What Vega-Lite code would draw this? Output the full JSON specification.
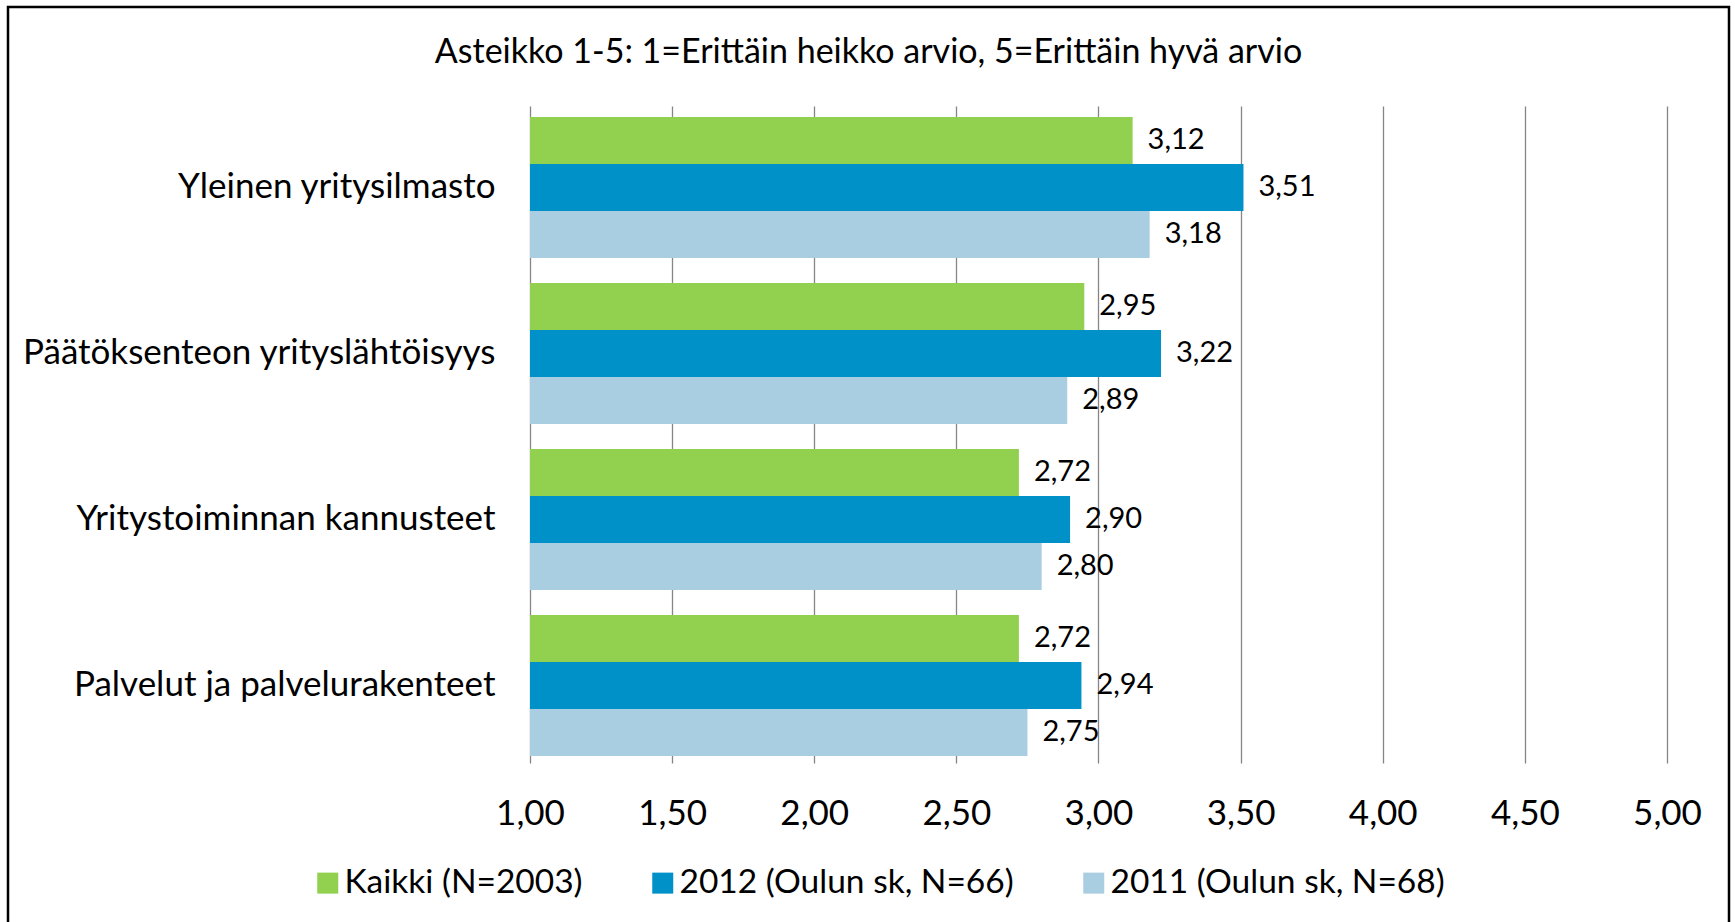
{
  "$schema": "https://vega.github.io/schema/vega-lite/v6.json",
  "autosize": {"type": "none"},
  "width": 1721,
  "height": 930,
  "padding": {"left": 8, "top": 7, "right": 6, "bottom": 0},
  "background": "white",
  "config": {
    "locale": {"number": {"decimal": ",", "thousands": "\u00a0", "grouping": [3], "currency": ["", " €"]}},
    "font": "Lato",
    "view": {"stroke": "black", "strokeWidth": 2.5}
  },
  "title": {
    "text": "Asteikko 1-5: 1=Erittäin heikko arvio, 5=Erittäin hyvä arvio",
    "anchor": "middle",
    "frame": "group",
    "baseline": "middle",
    "offset": -80,
    "fontSize": 34,
    "fontWeight": "normal",
    "font": "Lato",
    "color": "black"
  },
  "data": {
    "values": [
      {"kohde": "Yleinen yritysilmasto", "sarja": "Kaikki (N=2003)", "arvo": 3.12},
      {"kohde": "Yleinen yritysilmasto", "sarja": "2012 (Oulun sk, N=66)", "arvo": 3.51},
      {"kohde": "Yleinen yritysilmasto", "sarja": "2011 (Oulun sk, N=68)", "arvo": 3.18},
      {"kohde": "Päätöksenteon yrityslähtöisyys", "sarja": "Kaikki (N=2003)", "arvo": 2.95},
      {"kohde": "Päätöksenteon yrityslähtöisyys", "sarja": "2012 (Oulun sk, N=66)", "arvo": 3.22},
      {"kohde": "Päätöksenteon yrityslähtöisyys", "sarja": "2011 (Oulun sk, N=68)", "arvo": 2.89},
      {"kohde": "Yritystoiminnan kannusteet", "sarja": "Kaikki (N=2003)", "arvo": 2.72},
      {"kohde": "Yritystoiminnan kannusteet", "sarja": "2012 (Oulun sk, N=66)", "arvo": 2.90},
      {"kohde": "Yritystoiminnan kannusteet", "sarja": "2011 (Oulun sk, N=68)", "arvo": 2.80},
      {"kohde": "Palvelut ja palvelurakenteet", "sarja": "Kaikki (N=2003)", "arvo": 2.72},
      {"kohde": "Palvelut ja palvelurakenteet", "sarja": "2012 (Oulun sk, N=66)", "arvo": 2.94},
      {"kohde": "Palvelut ja palvelurakenteet", "sarja": "2011 (Oulun sk, N=68)", "arvo": 2.75}
    ]
  },
  "encoding": {
    "y": {
      "field": "kohde",
      "type": "nominal",
      "sort": ["Yleinen yritysilmasto", "Päätöksenteon yrityslähtöisyys", "Yritystoiminnan kannusteet", "Palvelut ja palvelurakenteet"],
      "scale": {"paddingInner": 0.1506, "paddingOuter": 0.8765, "align": 0.378},
      "axis": {
        "orient": "left",
        "offset": -522,
        "ticks": false,
        "domain": false,
        "grid": false,
        "labelPadding": 35,
        "labelFontSize": 35,
        "labelColor": "black",
        "labelLimit": 0,
        "title": null
      }
    },
    "yOffset": {
      "field": "sarja",
      "type": "nominal",
      "sort": ["Kaikki (N=2003)", "2012 (Oulun sk, N=66)", "2011 (Oulun sk, N=68)"]
    },
    "x": {
      "field": "arvo",
      "type": "quantitative",
      "scale": {"domain": [-0.83641, 5.21812], "nice": false, "zero": false},
      "axis": {
        "values": [1, 1.5, 2, 2.5, 3, 3.5, 4, 4.5, 5],
        "format": ".2f",
        "offset": -174,
        "tickSize": -657,
        "tickColor": "#868686",
        "tickWidth": 1.3,
        "domain": false,
        "grid": false,
        "labelPadding": 707,
        "labelBaseline": "middle",
        "labelFontSize": 35,
        "labelColor": "black",
        "labelFlush": false,
        "labelOverlap": false,
        "title": null
      }
    }
  },
  "layer": [
    {
      "mark": {"type": "bar"},
      "encoding": {
        "x2": {"datum": 1},
        "color": {
          "field": "sarja",
          "type": "nominal",
          "sort": ["Kaikki (N=2003)", "2012 (Oulun sk, N=66)", "2011 (Oulun sk, N=68)"],
          "scale": {
            "domain": ["Kaikki (N=2003)", "2012 (Oulun sk, N=66)", "2011 (Oulun sk, N=68)"],
            "range": ["#92D050", "#0091C9", "#A9CDE1"]
          },
          "legend": {
            "orient": "none",
            "legendX": 303,
            "legendY": 859,
            "direction": "horizontal",
            "columns": 3,
            "title": null,
            "symbolType": "square",
            "symbolSize": 441,
            "symbolStrokeWidth": 0,
            "labelFontSize": 33.5,
            "labelColor": "black",
            "labelOffset": 0,
            "labelLimit": 0,
            "columnPadding": 63,
            "padding": 0
          }
        }
      }
    },
    {
      "mark": {"type": "text", "align": "left", "baseline": "middle", "dx": 15, "fontSize": 29, "color": "black"},
      "encoding": {
        "text": {"field": "arvo", "type": "quantitative", "format": ".2f"}
      }
    }
  ]
}
